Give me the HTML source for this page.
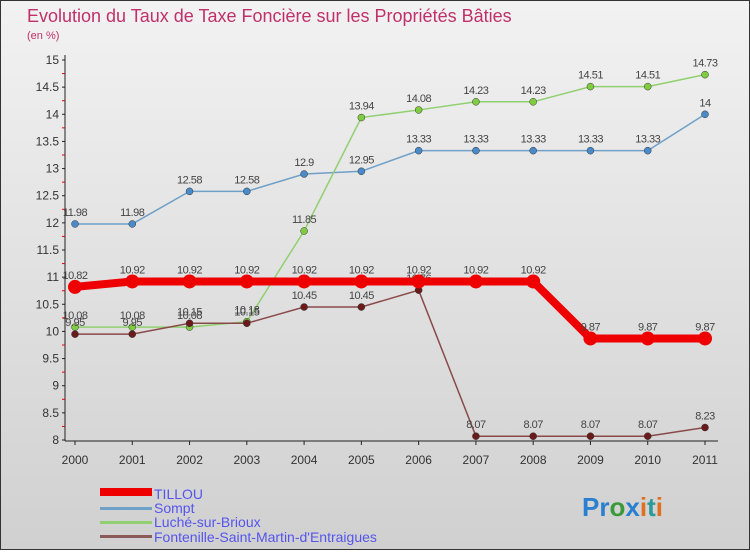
<!DOCTYPE html>
<html><head><meta charset="utf-8"><style>
body{margin:0;width:750px;height:550px;overflow:hidden;font-family:"Liberation Sans",sans-serif}
svg text{font-family:"Liberation Sans",sans-serif}
</style></head><body>
<svg id="c" width="750" height="550" xmlns="http://www.w3.org/2000/svg">
<defs><linearGradient id="bg" x1="0" y1="0" x2="0" y2="1"><stop offset="0" stop-color="#f2f2f2"/><stop offset="1" stop-color="#d0d0d0"/></linearGradient></defs>
<rect x="0.5" y="0.5" width="749" height="549" fill="url(#bg)" stroke="#333"/>
<text x="27" y="22" font-size="18" fill="#c0306a">Evolution du Taux de Taxe Foncière sur les Propriétés Bâties</text>
<text x="27" y="39" font-size="11" fill="#c0306a">(en %)</text>
<g id="axes"></g><g id="series"></g>
<g>
<rect x="100" y="488" width="52" height="8" fill="#e00"/>
<text x="154" y="499" font-size="14" fill="#5555ee">TILLOU</text>
<rect x="100" y="507" width="52" height="3" fill="#6fa0c8"/>
<text x="154" y="513" font-size="14" fill="#5555ee">Sompt</text>
<rect x="100" y="521" width="52" height="3" fill="#90d070"/>
<text x="154" y="527" font-size="14" fill="#5555ee">Luché-sur-Brioux</text>
<rect x="100" y="535" width="52" height="3" fill="#8a5a5a"/>
<text x="154" y="542" font-size="14" fill="#5555ee">Fontenille-Saint-Martin-d'Entraigues</text>
</g>
<text x="582" y="516" font-size="26" font-weight="bold"><tspan fill="#2a7fd0">Pr</tspan><tspan fill="#3a9a3a">o</tspan><tspan fill="#2a7fd0">x</tspan><tspan fill="#e07020">i</tspan><tspan fill="#2a9a9a">t</tspan><tspan fill="#e07020">i</tspan></text>
</svg>
<script>
const years=[2000,2001,2002,2003,2004,2005,2006,2007,2008,2009,2010,2011];
const yTicks=[8,8.5,9,9.5,10,10.5,11,11.5,12,12.5,13,13.5,14,14.5,15];
const tillou=[10.82,10.92,10.92,10.92,10.92,10.92,10.92,10.92,10.92,9.87,9.87,9.87];
const sompt=[11.98,11.98,12.58,12.58,12.9,12.95,13.33,13.33,13.33,13.33,13.33,14];
const luche=[10.08,10.08,10.08,10.18,11.85,13.94,14.08,14.23,14.23,14.51,14.51,14.73];
const fontenille=[9.95,9.95,10.15,10.15,10.45,10.45,10.76,8.07,8.07,8.07,8.07,8.23];
const NS="http://www.w3.org/2000/svg";
const X=i=>75+i*(630/11);
const Y=v=>440-(v-8)*(380/7);
function mk(t,a,p){const e=document.createElementNS(NS,t);for(const k in a)e.setAttribute(k,a[k]);p.appendChild(e);return e;}
const ax=document.getElementById('axes');
let l=mk('line',{x1:65,y1:55,x2:65,y2:441,stroke:'#222'},ax);

l=mk('line',{x1:65,y1:441,x2:718,y2:441,stroke:'#222'},ax);

yTicks.forEach(v=>{
 const y=Y(v);
 mk('line',{x1:62,y1:y,x2:65,y2:y,stroke:'#222'},ax);
 if(v<15) mk('line',{x1:62,y1:Y(v+0.25),x2:65,y2:Y(v+0.25),stroke:'#e00'},ax);
 const t=mk('text',{x:59,y:y+4,'font-size':12,fill:'#333','text-anchor':'end'},ax);
 t.textContent=String(v);
 
});
years.forEach((yr,i)=>{
 mk('line',{x1:X(i),y1:441,x2:X(i),y2:445,stroke:'#222'},ax);
 const t=mk('text',{x:X(i),y:464,'font-size':12,fill:'#333','text-anchor':'middle'},ax);
 t.textContent=yr;
 
});
const sg=document.getElementById('series');
function draw(data,color,w,r,name,dark){
 const g=mk('g',{},sg);
 
 mk('polyline',{points:data.map((v,i)=>X(i)+','+Y(v)).join(' '),fill:'none',stroke:color,'stroke-width':w},g);
 data.forEach((v,i)=>{
  const c=mk('circle',{cx:X(i),cy:Y(v),r:r,fill:dark,stroke:r>5?'none':'#333','stroke-width':0.5},g);
  
  const t=mk('text',{x:X(i),y:Y(v)-8,'font-size':11,fill:'#444','text-anchor':'middle','letter-spacing':'-0.5'},g);
  t.textContent=String(v);
  
 });
}
draw(sompt,'#6fa0c8',1.5,3.5,'sompt','#4a8ac8');
draw(luche,'#90d070',1.5,3.5,'luche','#80cc40');
draw(fontenille,'#8a4a4a',1.5,3.5,'fontenille','#6a1a1a');
draw(tillou,'#ee0000',8,7,'tillou','#ee0000');
</script>
</body></html>
